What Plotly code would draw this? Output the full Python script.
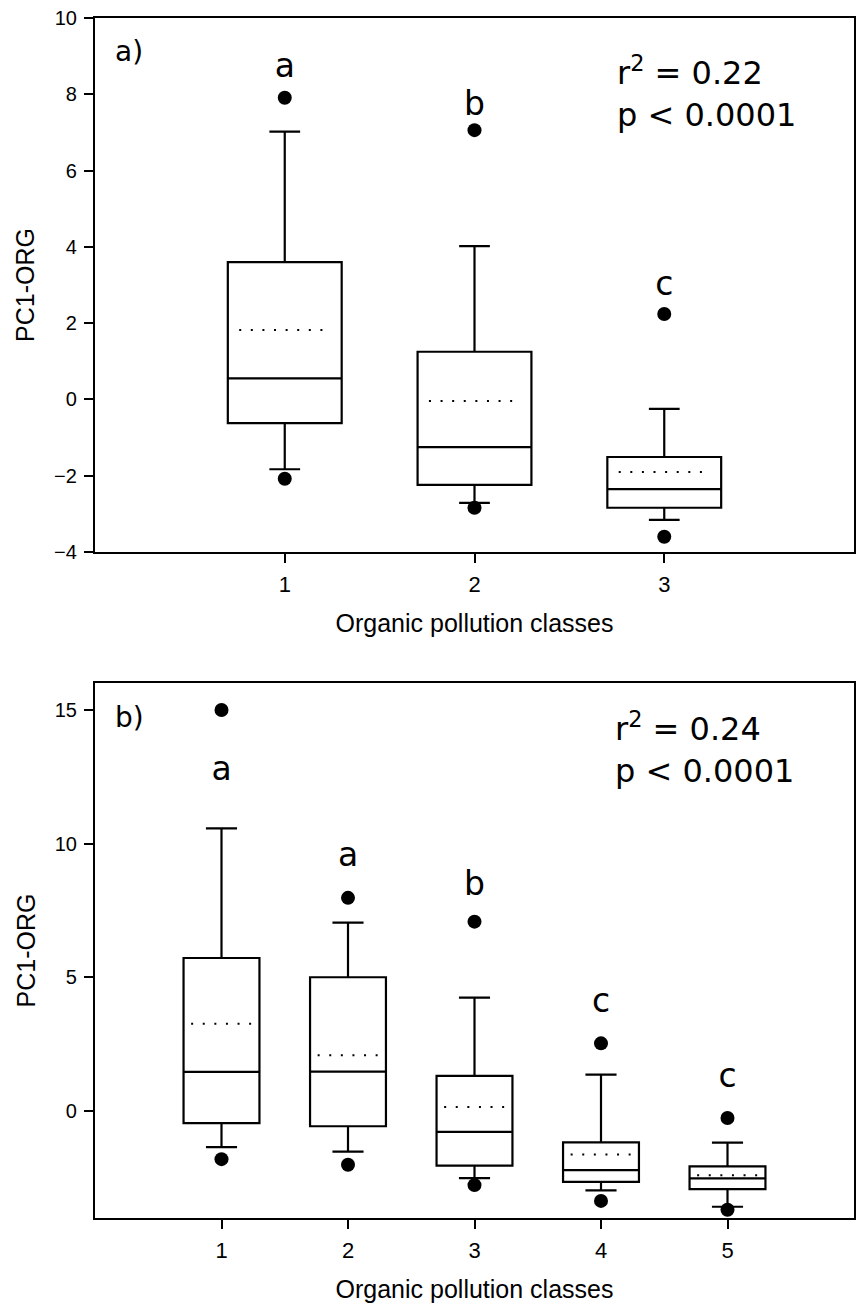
import plotly.graph_objects as go

# ---------------- Panel a) : three organic pollution classes ----------------
classes_a = [1, 2, 3]
q1_a = [-0.62, -2.24, -2.84]
median_a = [0.55, -1.25, -2.35]
q3_a = [3.60, 1.25, -1.51]
lower_a = [-1.83, -2.71, -3.16]
upper_a = [7.02, 4.02, -0.25]
mean_a = [1.82, -0.04, -1.90]
outlier_x_a = [1, 1, 2, 2, 3, 3]
outlier_y_a = [7.91, -2.08, 7.06, -2.84, 2.24, -3.60]
letters_a = ["a", "b", "c"]
letter_y_a = [8.66, 7.68, 2.96]
stats_a = "r<sup>2</sup> = 0.22<br>p < 0.0001"

# ---------------- Panel b) : five organic pollution classes ----------------
classes_b = [1, 2, 3, 4, 5]
q1_b = [-0.45, -0.57, -2.04, -2.65, -2.92]
median_b = [1.46, 1.47, -0.78, -2.21, -2.52]
q3_b = [5.72, 5.00, 1.31, -1.17, -2.07]
lower_b = [-1.35, -1.52, -2.51, -2.97, -3.58]
upper_b = [10.57, 7.04, 4.24, 1.36, -1.18]
mean_b = [3.26, 2.08, 0.15, -1.63, -2.40]
outlier_x_b = [1, 1, 2, 2, 3, 3, 4, 4, 5, 5]
outlier_y_b = [14.99, -1.80, 7.97, -2.01, 7.08, -2.77, 2.53, -3.36, -0.26, -3.69]
letters_b = ["a", "a", "b", "c", "c"]
letter_y_b = [12.70, 9.45, 8.40, 4.02, 1.20]
stats_b = "r<sup>2</sup> = 0.24<br>p < 0.0001"

yticks_a = [-4, -2, 0, 2, 4, 6, 8, 10]
yticks_b = [0, 5, 10, 15]

x_title = "Organic pollution classes"
y_title = "PC1-ORG"

TICK_FONT = "Liberation Sans, Arial, sans-serif"
BIG_FONT = "DejaVu Sans, sans-serif"

fig = go.Figure()


def add_panel(xa, ya, classes, q1, med, q3, lo, hi, mean, ox, oy, letters, ly, whisk):
    fig.add_trace(go.Box(
        x=classes, q1=q1, median=med, q3=q3, lowerfence=lo, upperfence=hi,
        width=0.6, whiskerwidth=whisk, fillcolor="white",
        line=dict(color="black", width=2.2), boxpoints=False,
        xaxis=xa, yaxis=ya, showlegend=False, hoverinfo="skip"))
    mx, my = [], []
    for c, m in zip(classes, mean):
        mx += [c - 0.24, c + 0.24, None]
        my += [m, m, None]
    fig.add_trace(go.Scatter(
        x=mx, y=my, mode="lines",
        line=dict(color="black", width=2, dash="2px,9.6px"),
        xaxis=xa, yaxis=ya, showlegend=False, hoverinfo="skip"))
    fig.add_trace(go.Scatter(
        x=ox, y=oy, mode="markers",
        marker=dict(color="black", size=14),
        xaxis=xa, yaxis=ya, showlegend=False, hoverinfo="skip"))
    fig.add_trace(go.Scatter(
        x=classes, y=ly, mode="text", text=letters,
        textposition="middle center",
        textfont=dict(family=BIG_FONT, size=33, color="black"),
        xaxis=xa, yaxis=ya, showlegend=False, hoverinfo="skip"))


add_panel("x", "y", classes_a, q1_a, median_a, q3_a, lower_a, upper_a, mean_a,
          outlier_x_a, outlier_y_a, letters_a, letter_y_a, 0.27)
add_panel("x2", "y2", classes_b, q1_b, median_b, q3_b, lower_b, upper_b, mean_b,
          outlier_x_b, outlier_y_b, letters_b, letter_y_b, 0.41)

axis_common = dict(
    showgrid=False, zeroline=False, showline=True, linecolor="black",
    linewidth=2.2, mirror=True, ticks="outside", ticklen=9, tickwidth=2.2,
    tickcolor="black")

xaxis_style = dict(axis_common, tickfont=dict(family=TICK_FONT, size=22, color="black"),
                   ticklabelstandoff=2,
                   title=dict(text=x_title, standoff=19,
                              font=dict(family=TICK_FONT, size=25, color="black")))
yaxis_style = dict(axis_common, tickfont=dict(family=TICK_FONT, size=20, color="black"),
                   ticklabelstandoff=3,
                   title=dict(text=y_title, standoff=12,
                              font=dict(family=TICK_FONT, size=25, color="black")))

stat_font = dict(family=BIG_FONT, size=32, color="black")
label_font = dict(family=BIG_FONT, size=28, color="black")

fig.update_layout(
    width=857, height=1304,
    margin=dict(l=95, r=1, t=18, b=86),
    paper_bgcolor="white", plot_bgcolor="white",
    xaxis=dict(xaxis_style, domain=[0, 1], anchor="y", range=[0, 4], tickvals=classes_a),
    yaxis=dict(yaxis_style, domain=[0.555, 1], anchor="x", range=[-4, 10], tickvals=yticks_a),
    xaxis2=dict(xaxis_style, domain=[0, 1], anchor="y2", range=[0, 6], tickvals=classes_b),
    yaxis2=dict(yaxis_style, domain=[0, 0.4458], anchor="x2", range=[-4, 16], tickvals=yticks_b),
    annotations=[
        dict(text="a)", xref="x domain", yref="y domain", x=0.024, y=0.938,
             xanchor="left", yanchor="middle", showarrow=False, font=label_font),
        dict(text="b)", xref="x2 domain", yref="y2 domain", x=0.024, y=0.9355,
             xanchor="left", yanchor="middle", showarrow=False, font=label_font),
        dict(text=stats_a, xref="x domain", yref="y domain", x=0.685, y=0.861,
             xanchor="left", yanchor="middle", align="left", showarrow=False,
             font=stat_font),
        dict(text=stats_b, xref="x2 domain", yref="y2 domain", x=0.683, y=0.8785,
             xanchor="left", yanchor="middle", align="left", showarrow=False,
             font=stat_font),
    ],
)

fig.write_html("out.html")
